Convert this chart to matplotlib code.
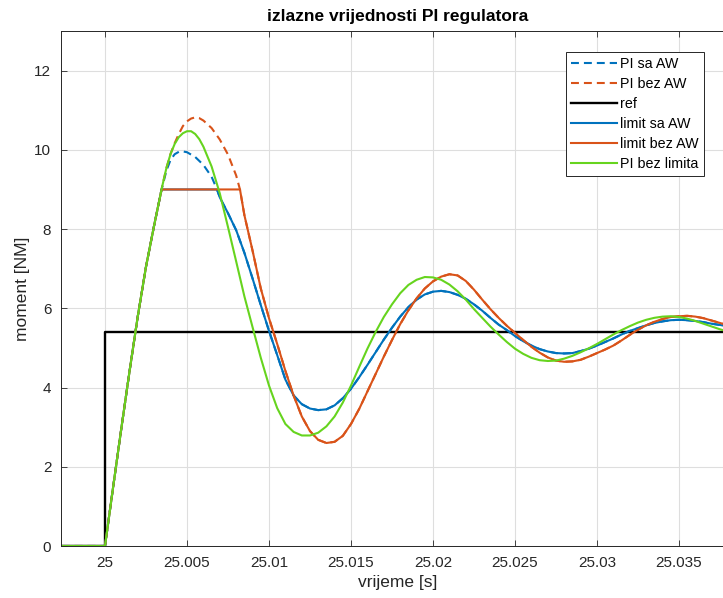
import numpy as np
import matplotlib
matplotlib.use("Agg")
import matplotlib.pyplot as plt

plt.rcParams['font.family'] = ['Liberation Sans', 'DejaVu Sans']

# ---------------- data (time offset in ms after 25 s) ----------------
t0 = 25.0
x_ticks = [25, 25.005, 25.01, 25.015, 25.02, 25.025, 25.03, 25.035]
x_tick_labels = ['25', '25.005', '25.01', '25.015', '25.02', '25.025', '25.03', '25.035']
y_ticks = [0, 2, 4, 6, 8, 10, 12]
limit_value = 9.0

ref_ms = [-5.0, 0.0, 0.0, 40.0]
ref_val = [0.0, 0.0, 5.4, 5.4]

green_ms = [-5.0, 0.0, 0.5, 1.0, 1.5, 2.0, 2.5, 3.0, 3.45, 3.5, 3.75, 4.0, 4.25, 4.5, 4.75, 5.0, 5.25,
            5.5, 5.75, 6.0, 6.5, 7.0, 7.5,
            8.0, 8.5, 9.0, 9.5, 10.0, 10.5, 11.0, 11.5, 12.0, 12.5, 13.0, 13.5, 14.0, 14.5, 15.0, 15.5,
            16.0, 16.5, 17.0, 17.5, 18.0, 18.5, 19.0, 19.5, 20.0, 20.5, 21.0, 21.5, 22.0, 22.5, 23.0,
            23.5, 24.0, 24.5, 25.0, 25.5, 26.0, 26.5, 27.0, 27.5, 28.0, 28.5, 29.0, 29.5, 30.0, 30.5,
            31.0, 31.5, 32.0, 32.5, 33.0, 33.5, 34.0, 34.5, 35.0, 35.5, 36.0, 36.5, 37.0, 37.5, 38.0,
            38.5, 39.0]
green_val = [0.0, 0.0, 1.5, 2.98, 4.42, 5.8, 7.05, 8.1, 9.0, 9.1, 9.55, 9.9, 10.15, 10.32, 10.42, 10.47,
             10.47, 10.4, 10.27, 10.08, 9.58,
             8.9, 8.05, 7.18, 6.3, 5.52, 4.75, 4.05, 3.48, 3.08, 2.88, 2.79, 2.79, 2.86, 3.02, 3.27, 3.62,
             4.05, 4.52, 4.98, 5.4, 5.78, 6.1, 6.38, 6.59, 6.72, 6.79, 6.78, 6.72, 6.6, 6.43, 6.22, 5.98,
             5.76, 5.54, 5.34, 5.15, 4.98, 4.85, 4.75, 4.69, 4.67, 4.68, 4.73, 4.8, 4.89, 4.99, 5.1, 5.22,
             5.34, 5.45, 5.55, 5.64, 5.71, 5.76, 5.79, 5.8, 5.78, 5.74, 5.68, 5.61, 5.54, 5.47, 5.41,
             5.36, 5.32]

pi_aw_ms = [-5.0, 0.0, 0.5, 1.0, 1.5, 2.0, 2.5, 3.0, 3.45, 3.5, 3.75, 4.0, 4.25, 4.5, 4.75, 5.0, 5.5,
            6.0, 6.5, 6.83,
            7.0, 7.5, 8.0, 8.5, 9.0, 9.5, 10.0, 10.5, 11.0, 11.5, 12.0, 12.5, 13.0, 13.5, 14.0, 14.5,
            15.0, 15.5, 16.0, 16.5, 17.0, 17.5, 18.0, 18.5, 19.0, 19.5, 20.0, 20.5, 21.0, 21.5, 22.0,
            22.5, 23.0, 23.5, 24.0, 24.5, 25.0, 25.5, 26.0, 26.5, 27.0, 27.5, 28.0, 28.5, 29.0, 29.5,
            30.0, 30.5, 31.0, 31.5, 32.0, 32.5, 33.0, 33.5, 34.0, 34.5, 35.0, 35.5, 36.0, 36.5, 37.0,
            37.5, 38.0, 38.5, 39.0]
pi_aw_val = [0.0, 0.0, 1.5, 2.98, 4.42, 5.8, 7.05, 8.1, 9.0, 9.08, 9.48, 9.75, 9.89, 9.95, 9.96, 9.94,
             9.82, 9.62,
             9.32, 9.0, 8.8, 8.4, 7.97, 7.4, 6.75, 6.08, 5.43, 4.82, 4.2, 3.8, 3.58, 3.47, 3.43, 3.45,
             3.55, 3.73, 3.97, 4.26, 4.57, 4.89, 5.21, 5.51, 5.79, 6.03, 6.22, 6.35, 6.42, 6.44, 6.41,
             6.34, 6.24, 6.1, 5.94, 5.76, 5.59, 5.45, 5.3, 5.17, 5.06, 4.97, 4.91, 4.87, 4.86, 4.87, 4.92,
             4.98, 5.06, 5.15, 5.24, 5.34, 5.43, 5.5, 5.57, 5.63, 5.67, 5.7, 5.71, 5.7, 5.68, 5.65, 5.61,
             5.58, 5.54, 5.5, 5.46]

pi_noaw_ms = [-5.0, 0.0, 0.5, 1.0, 1.5, 2.0, 2.5, 3.0, 3.45, 3.5, 3.75, 4.0, 4.25, 4.5, 4.75, 5.0, 5.25,
              5.5, 5.75, 6.0, 6.5, 7.0, 7.5,
              8.0, 8.23, 8.5, 9.0, 9.5, 10.0, 10.5, 11.0, 11.5, 12.0, 12.5, 13.0, 13.5, 14.0, 14.5, 15.0,
              15.5, 16.0, 16.5, 17.0, 17.5, 18.0, 18.5, 19.0, 19.5, 20.0, 20.5, 21.0, 21.5, 22.0, 22.5,
              23.0, 23.5, 24.0, 24.5, 25.0, 25.5, 26.0, 26.5, 27.0, 27.5, 28.0, 28.5, 29.0, 29.5, 30.0,
              30.5, 31.0, 31.5, 32.0, 32.5, 33.0, 33.5, 34.0, 34.5, 35.0, 35.5, 36.0, 36.5, 37.0, 37.5,
              38.0, 38.5, 39.0]
pi_noaw_val = [0.0, 0.0, 1.5, 2.98, 4.42, 5.8, 7.05, 8.1, 9.0, 9.1, 9.55, 9.9, 10.17, 10.4, 10.6, 10.72,
               10.79, 10.82, 10.8, 10.74, 10.55,
               10.26, 9.88, 9.35, 9.0, 8.35, 7.45, 6.5, 5.75, 5.1, 4.42, 3.8, 3.27, 2.9, 2.68, 2.6, 2.63,
               2.78, 3.08, 3.46, 3.9, 4.34, 4.78, 5.2, 5.6, 5.95, 6.25, 6.5, 6.68, 6.8, 6.86, 6.83, 6.69,
               6.47, 6.22, 5.98, 5.76, 5.56, 5.38, 5.2, 5.03, 4.88, 4.76, 4.68, 4.65, 4.66, 4.7, 4.78,
               4.87, 4.96, 5.06, 5.19, 5.33, 5.46, 5.57, 5.66, 5.73, 5.78, 5.8, 5.81, 5.79, 5.75, 5.69,
               5.63, 5.57, 5.51, 5.45]

labels = ['PI sa AW', 'PI bez AW', 'ref', 'limit sa AW', 'limit bez AW', 'PI bez limita']
c_blue = '#0072BD'
c_orange = '#D95319'
c_green = '#66D41E'


def to_t(ms):
    return t0 + np.asarray(ms) / 1000.0


# ---------------- figure ----------------
W, H = 723, 598
fig = plt.figure(figsize=(W / 100, H / 100), dpi=100)
ax_l, ax_r, ax_t, ax_b = 61, 735, 31, 546
ax = fig.add_axes([ax_l / W, 1 - ax_b / H, (ax_r - ax_l) / W, (ax_b - ax_t) / H])

px_per_s = 82 / 0.005
x_left = 25 + (ax_l - 105) / px_per_s
x_right = 25 + (ax_r - 105) / px_per_s

lw = 1.5
dash = (0, (3.8, 2.4))
ax.plot(to_t(pi_aw_ms), pi_aw_val, color=c_blue, lw=lw, ls=dash, label=labels[0])
ax.plot(to_t(pi_noaw_ms), pi_noaw_val, color=c_orange, lw=lw, ls=dash, label=labels[1])
ax.plot(to_t(ref_ms), ref_val, color='black', lw=1.7, label=labels[2])
ax.plot(to_t(pi_aw_ms), np.minimum(pi_aw_val, limit_value), color=c_blue, lw=lw, label=labels[3])
ax.plot(to_t(pi_noaw_ms), np.minimum(pi_noaw_val, limit_value), color=c_orange, lw=lw, label=labels[4])
ax.plot(to_t(green_ms), green_val, color=c_green, lw=lw, label=labels[5])

ax.set_xlim(x_left, x_right)
ax.set_ylim(0, 13)
ax.set_xticks(x_ticks)
ax.set_xticklabels(x_tick_labels)
ax.set_yticks(y_ticks)

axcol = '#262626'
ax.grid(True, color='#dedede', lw=0.8)
ax.set_axisbelow(True)
ax.tick_params(direction='in', top=True, right=True, length=4.5, width=0.6,
               colors=axcol, labelsize=11, pad=7)
for s in ax.spines.values():
    s.set_color(axcol)
    s.set_linewidth(0.7)

ax.set_title('izlazne vrijednosti PI regulatora', fontsize=12.5, fontweight='bold',
             color='black', pad=7)
ax.set_xlabel('vrijeme [s]', fontsize=12.5, color=axcol, labelpad=4)
ax.set_ylabel('moment [NM]', fontsize=12.5, color=axcol, labelpad=3)

leg = ax.legend(loc='upper left', bbox_to_anchor=(566 / W, 1 - 52 / H),
                bbox_transform=fig.transFigure, borderaxespad=0, fontsize=10.3,
                handlelength=3.2, handletextpad=0.25, labelspacing=0.42,
                borderpad=0.35, fancybox=False, framealpha=1, edgecolor=axcol)
leg.get_frame().set_linewidth(0.7)

fig.savefig('out.png', dpi=100, facecolor='white')
